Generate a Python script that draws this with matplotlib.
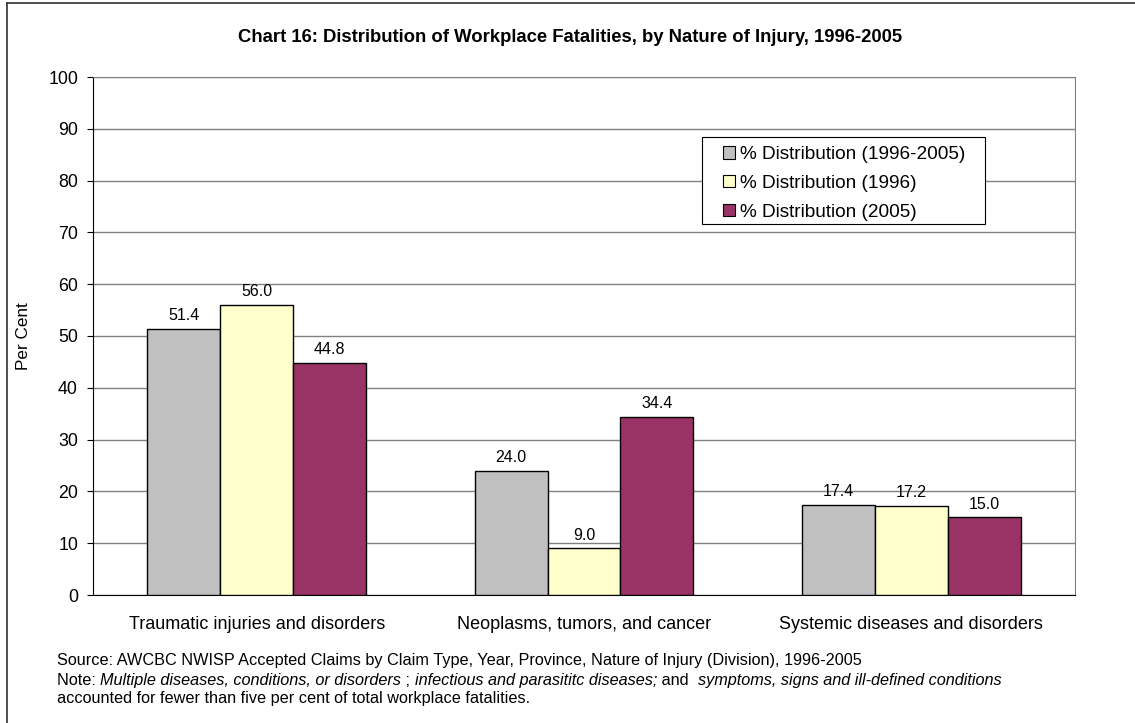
import matplotlib
matplotlib.use('Agg')
import matplotlib.pyplot as plt
import numpy as np
from matplotlib.lines import Line2D
from matplotlib.patches import Patch, Rectangle

plt.rcParams['font.family'] = ['Liberation Sans', 'DejaVu Sans']

# data
categories = ['Traumatic injuries and disorders', 'Neoplasms, tumors, and cancer',
              'Systemic diseases and disorders']
series_names = ['% Distribution (1996-2005)', '% Distribution (1996)', '% Distribution (2005)']
dist_all = [51.4, 24.0, 17.4]
dist_1996 = [56.0, 9.0, 17.2]
dist_2005 = [44.8, 34.4, 15.0]
colors = ['#C0C0C0', '#FFFFCC', '#993366']
yticks = list(range(0, 101, 10))

W, H = 1135, 723
fig = plt.figure(figsize=(W / 100, H / 100), dpi=100)
ax = fig.add_axes([93 / W, 1 - 595 / H, (1075 - 93) / W, (595 - 77) / H])

x = np.arange(len(categories))
bw = 0.223
for j, vals in enumerate([dist_all, dist_1996, dist_2005]):
    bars = ax.bar(x + (j - 1) * bw, vals, bw, color=colors[j], edgecolor='black',
                  linewidth=1.0, zorder=3, label=series_names[j])
    for b, v in zip(bars, vals):
        ax.annotate(f'{v:.1f}', (b.get_x() + b.get_width() / 2, v), xytext=(0, 4),
                    textcoords='offset points', ha='center', va='bottom', fontsize=11.5)

ax.set_xlim(-0.5, 2.5)
ax.set_ylim(0, 100)
ax.set_yticks(yticks)
ax.set_xticks(x)
ax.set_xticklabels(categories, fontsize=13)
ax.tick_params(axis='x', length=0, pad=15)
ax.tick_params(axis='y', direction='out', length=4.3, labelsize=12.8, pad=6.5)
ax.yaxis.grid(True, color='#808080', linewidth=1.0, zorder=0)
ax.set_axisbelow(True)
for s in ['top', 'right']:
    ax.spines[s].set_color('#808080')
for s in ['left', 'bottom']:
    ax.spines[s].set_color('black')
ax.set_ylabel('Per Cent', fontsize=12.3)
ax.yaxis.set_label_coords(-(93 - 31) / (1075 - 93), 0.5)

# legend box drawn by hand so the paddings can differ
ax.add_patch(Rectangle((702 / W, 1 - 224 / H), (985 - 702) / W, (224 - 137) / H,
                       transform=fig.transFigure, facecolor='white', edgecolor='black',
                       linewidth=0.8, zorder=4))
handles = [Patch(facecolor=c, edgecolor='black', linewidth=0.8) for c in colors]
leg = ax.legend(handles, series_names, loc='upper left',
                bbox_to_anchor=(723 / W, 1 - 146 / H), bbox_transform=fig.transFigure,
                fontsize=13.7, frameon=False,
                handlelength=0.63, handleheight=0.63, handletextpad=0.27,
                labelspacing=0.62, borderpad=0, borderaxespad=0)
leg.set_zorder(5)

fig.text(570 / W, 1 - 37 / H, 'Chart 16: Distribution of Workplace Fatalities, by Nature of Injury, 1996-2005',
         ha='center', va='center', fontsize=13.3, fontweight='bold')

# footnotes
fs = 11.7
fig.text(57 / W, 1 - 660 / H,
         'Source: AWCBC NWISP Accepted Claims by Claim Type, Year, Province, Nature of Injury (Division), 1996-2005',
         ha='left', va='center', fontsize=fs)
parts = [('Note: ', 'normal'), ('Multiple diseases, conditions, or disorders', 'italic'),
         (' ; ', 'normal'), ('infectious and parasititc diseases;', 'italic'),
         (' and  ', 'normal'), ('symptoms, signs and ill-defined conditions', 'italic')]
fig.canvas.draw()
r = fig.canvas.get_renderer()
xpos = 57
for txt, style in parts:
    t = fig.text(xpos / W, 1 - 685 / H, txt, ha='left', va='baseline', fontsize=fs, style=style)
    xpos += t.get_window_extent(r).width
fig.text(57 / W, 1 - 699 / H, 'accounted for fewer than five per cent of total workplace fatalities.',
         ha='left', va='center', fontsize=fs)

fig.add_artist(Line2D([7 / W, 7 / W], [0, 1 - 3 / H], color='#303030', linewidth=1.2))
fig.add_artist(Line2D([7 / W, 1], [1 - 3 / H, 1 - 3 / H], color='#303030', linewidth=1.2))

fig.savefig('out.png', dpi=100)
